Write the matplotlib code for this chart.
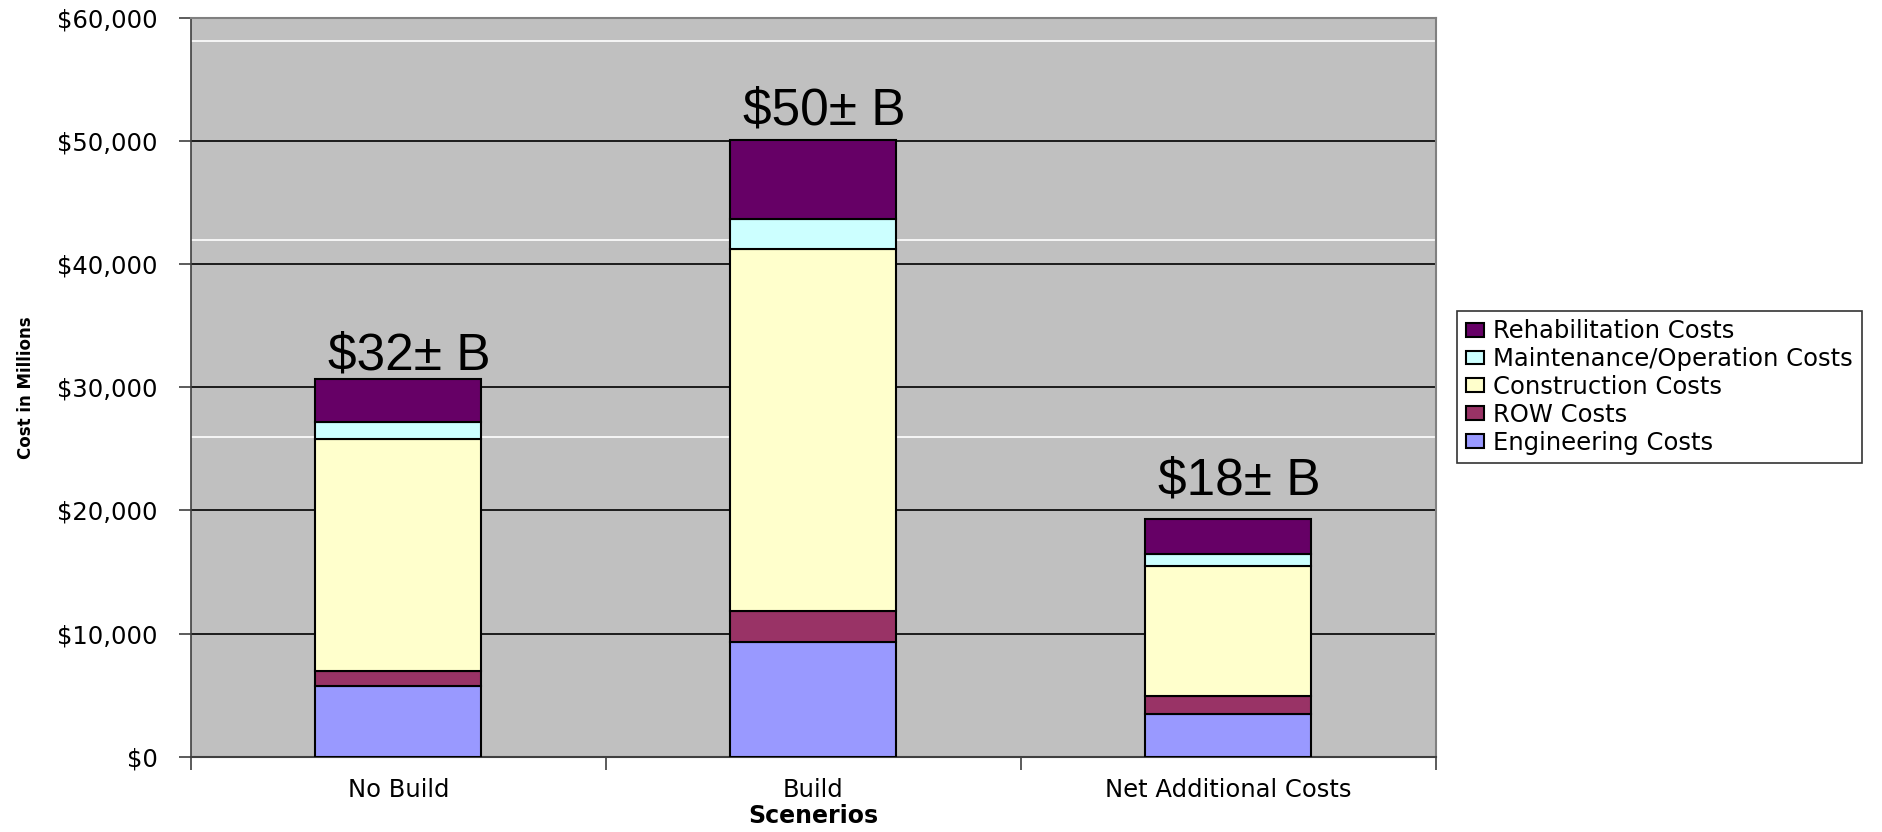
import numpy as np
import matplotlib.pyplot as plt
from matplotlib.ticker import FuncFormatter

scenarios = ['No Build', 'Build', 'Net Additional Costs']
engineering = [5770, 9350, 3490]
row_costs = [1190, 2500, 1440]
construction = [18850, 29400, 10530]
maintenance = [1380, 2430, 980]
rehabilitation = [3490, 6420, 2840]
totals_text = ['$32± B', '$50± B', '$18± B']

series = [
    ('Engineering Costs', engineering, '#9999FF'),
    ('ROW Costs', row_costs, '#993366'),
    ('Construction Costs', construction, '#FFFFCC'),
    ('Maintenance/Operation Costs', maintenance, '#CCFFFF'),
    ('Rehabilitation Costs', rehabilitation, '#660066'),
]

fig = plt.figure(figsize=(18.83, 8.32), dpi=100)
ax = fig.add_axes([0.1014, 0.0905, 0.6612, 0.8879])
ax.set_facecolor('#C0C0C0')

x = np.arange(len(scenarios))
bottom = np.zeros(len(scenarios))
handles = []
for name, vals, color in series:
    b = ax.bar(x, vals, 0.4, bottom=bottom, color=color, edgecolor='black',
               linewidth=1.5, label=name, zorder=3)
    handles.append(b)
    bottom += np.array(vals)

# stray light rules across the plot area
for yv in [58100, 42000, 25950]:
    ax.axhline(yv, color='white', lw=1.2, zorder=1)

# total labels above each stack
offsets = [730, 1210, 1980]
for xi, top, txt, off in zip(x, bottom, totals_text, offsets):
    ax.text(xi + 0.025, top + off, txt, ha='center', va='baseline',
            fontsize=37, family='Liberation Sans', zorder=4)

ax.set_xlim(-0.5, 2.5)
ax.set_ylim(0, 60000)
ax.set_yticks(np.arange(0, 60001, 10000))
ax.yaxis.set_major_formatter(FuncFormatter(lambda v, p: '${:,.0f}'.format(v)))
ax.grid(axis='y', color='black', lw=1.2, zorder=2)
ax.set_axisbelow(True)

ax.set_xticks(x)
ax.set_xticklabels(scenarios)
ax.set_xticks([-0.5, 0.5, 1.5, 2.5], minor=True)
ax.tick_params(axis='x', which='major', length=0, pad=15, labelsize=17.5)
ax.tick_params(axis='x', which='minor', length=9, width=1.2, color='#404040')
ax.tick_params(axis='y', length=9, width=1.2, color='#404040', pad=15, labelsize=17.5)

for side in ['top', 'right']:
    ax.spines[side].set_color('#808080')
    ax.spines[side].set_linewidth(1.5)
ax.spines['left'].set_color('#404040')
ax.spines['left'].set_linewidth(1.2)
ax.spines['bottom'].set_color('#404040')
ax.spines['bottom'].set_linewidth(1.5)

ax.set_xlabel('Scenerios', fontsize=17, fontweight='bold', labelpad=2)
ax.set_ylabel('Cost in Millions', fontsize=12, fontweight='bold', labelpad=16)

leg = ax.legend(handles[::-1], [s[0] for s in series[::-1]],
                loc='center left', bbox_to_anchor=(1457 / 1883, 445 / 832),
                bbox_transform=fig.transFigure, fontsize=17.5,
                frameon=True, fancybox=False, shadow=False,
                handlelength=0.75, handleheight=0.5, handletextpad=0.4,
                labelspacing=0.16, borderpad=0.35, borderaxespad=0)
leg.get_frame().set_edgecolor('black')
leg.get_frame().set_linewidth(1.2)

fig.savefig('out.png', dpi=100)
